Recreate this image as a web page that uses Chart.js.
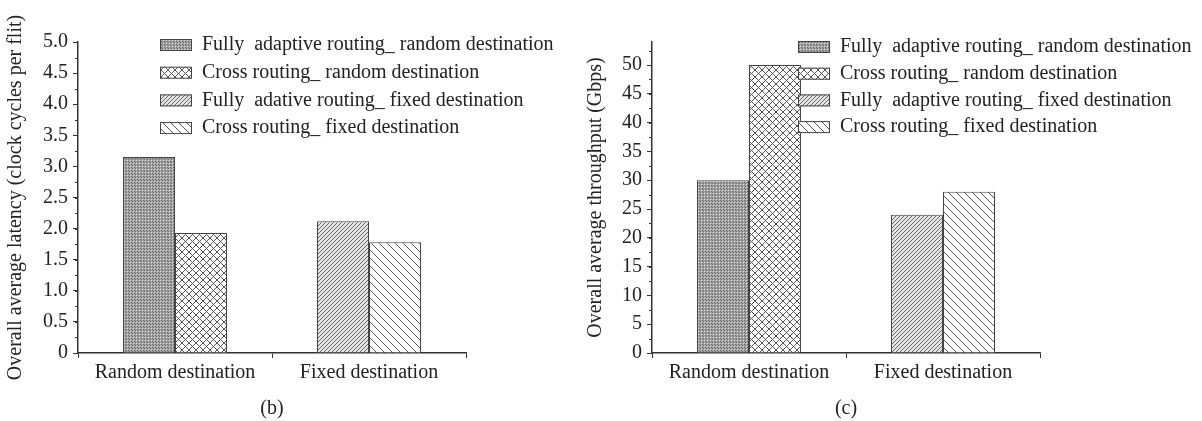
<!DOCTYPE html>
<html>
<head>
<meta charset="utf-8">
<script src="https://cdn.jsdelivr.net/npm/chart.js@4.4.1/dist/chart.umd.min.js"></script>
<style>
    body { margin: 0; background: #fff; width: 1202px; height: 421px; overflow: hidden; position: relative; }
    .wrap { position: absolute; top: 0; height: 421px; }
    #wrapB { left: 0; width: 580px; }
    #wrapC { left: 580px; width: 622px; }
</style>
</head>
<body>
<div class="wrap" id="wrapB"><canvas id="chartB"></canvas></div>
<div class="wrap" id="wrapC"><canvas id="chartC"></canvas></div>
<script>
// categories on the x axis
const categories = ['Random destination', 'Fixed destination'];

// legend texts (as printed in each panel)
const latencySeries = [
    'Fully  adaptive routing_ random destination',
    'Cross routing_ random destination',
    'Fully  adative routing_ fixed destination',
    'Cross routing_ fixed destination'
];
const throughputSeries = [
    'Fully  adaptive routing_ random destination',
    'Cross routing_ random destination',
    'Fully  adaptive routing_ fixed destination',
    'Cross routing_ fixed destination'
];

// (b) latency, clock cycles per flit
const latencyFullyRandom = [3.15, null];
const latencyCrossRandom = [1.93, null];
const latencyFullyFixed = [null, 2.12];
const latencyCrossFixed = [null, 1.78];

// (c) throughput, Gbps
const throughputFullyRandom = [30, null];
const throughputCrossRandom = [50, null];
const throughputFullyFixed = [null, 24];
const throughputCrossFixed = [null, 28];

// y axis ranges
const latencyMax = 5, latencyStep = 0.5, latencyMinor = 0.25;
const throughputMax = 54, throughputStep = 5, throughputMinor = 2.5;

const FONT = '"Liberation Serif", "Times New Roman", serif';
const INK = '#222';
const AXIS = '#333';

// hatch fills
function makePattern(kind) {
    const c = document.createElement('canvas');
    const g = c.getContext('2d');
    if (kind === 'dense') {
        c.width = c.height = 3;
        g.fillStyle = '#a4a4a4';
        g.fillRect(0, 0, 3, 3);
        g.fillStyle = '#dcdcdc';
        g.fillRect(1, 1, 1, 1);
        g.fillStyle = '#6a6a6a';
        g.fillRect(0, 0, 1, 1);
        g.fillRect(2, 2, 1, 1);
    } else if (kind === 'cross') {
        const s = 7;
        c.width = c.height = s;
        g.fillStyle = '#fff';
        g.fillRect(0, 0, s, s);
        g.strokeStyle = '#555';
        g.lineWidth = 1;
        g.beginPath();
        g.moveTo(0, 0); g.lineTo(s, s);
        g.moveTo(s, 0); g.lineTo(0, s);
        g.stroke();
    } else if (kind === 'fine') {
        const s = 4;
        c.width = c.height = s;
        g.fillStyle = '#e4e4e4';
        g.fillRect(0, 0, s, s);
        g.strokeStyle = '#6a6a6a';
        g.lineWidth = 1;
        g.beginPath();
        g.moveTo(-1, s + 1); g.lineTo(s + 1, -1);
        g.moveTo(-1, 1); g.lineTo(1, -1);
        g.moveTo(s - 1, s + 1); g.lineTo(s + 1, s - 1);
        g.stroke();
    } else {
        const s = 8;
        c.width = c.height = s;
        g.fillStyle = '#fff';
        g.fillRect(0, 0, s, s);
        g.strokeStyle = '#555';
        g.lineWidth = 1;
        g.beginPath();
        g.moveTo(-1, -1); g.lineTo(s + 1, s + 1);
        g.moveTo(s - 1, -1); g.lineTo(s + 1, 1);
        g.moveTo(-1, s - 1); g.lineTo(1, s + 1);
        g.stroke();
    }
    return c.getContext('2d').createPattern(c, 'repeat');
}

const fills = [makePattern('dense'), makePattern('cross'), makePattern('fine'), makePattern('back')];

// short outward minor ticks on the y axis
const minorTicks = {
    id: 'minorTicks',
    afterDraw(chart, args, opts) {
        const s = chart.scales.y;
        const ctx = chart.ctx;
        ctx.save();
        ctx.strokeStyle = AXIS;
        ctx.lineWidth = 1;
        for (let v = 0; v <= s.max + 1e-9; v += opts.step) {
            const y = Math.round(s.getPixelForValue(v)) + 0.5;
            ctx.beginPath();
            ctx.moveTo(s.right, y);
            ctx.lineTo(s.right - 3, y);
            ctx.stroke();
        }
        ctx.restore();
    }
};

// legend drawn inside the plot, box + text per row
const boxLegend = {
    id: 'boxLegend',
    afterDraw(chart, args, opts) {
        const ctx = chart.ctx;
        ctx.save();
        ctx.font = '20px ' + FONT;
        ctx.textBaseline = 'middle';
        chart.data.datasets.forEach((ds, i) => {
            const y = opts.top + i * opts.rowGap;
            ctx.fillStyle = ds.backgroundColor;
            ctx.fillRect(opts.left, y - opts.boxH / 2, opts.boxW, opts.boxH);
            ctx.strokeStyle = '#444';
            ctx.lineWidth = 1;
            ctx.strokeRect(opts.left + 0.5, y - opts.boxH / 2 + 0.5, opts.boxW - 1, opts.boxH - 1);
            ctx.fillStyle = INK;
            ctx.fillText(ds.label, opts.left + opts.boxW + opts.gap, y);
        });
        ctx.restore();
    }
};

function makeChart(id, p) {
    const ctx = document.getElementById(id).getContext('2d');
    return new Chart(ctx, {
        type: 'bar',
        data: {
            labels: categories,
            datasets: p.series.map((data, i) => ({
                label: p.labels[i],
                data: data,
                backgroundColor: fills[i],
                borderColor: '#444',
                borderWidth: 1,
                skipNull: true,
                categoryPercentage: 0.536,
                barPercentage: 1
            }))
        },
        plugins: [minorTicks, boxLegend],
        options: {
            responsive: true,
            maintainAspectRatio: false,
            animation: false,
            layout: { padding: { top: 42, right: p.rightPad, bottom: 0, left: 0 } },
            plugins: {
                legend: { display: false },
                tooltip: { enabled: false },
                minorTicks: { step: p.minor },
                boxLegend: p.legend
            },
            scales: {
                x: {
                    offset: true,
                    afterFit: scale => { scale.height = 68; },
                    grid: { offset: true, drawOnChartArea: false, tickLength: 5, color: AXIS },
                    border: { color: AXIS, width: 1.5 },
                    ticks: { color: INK, font: { family: FONT, size: 20 }, padding: 3 },
                    title: { display: true, text: p.caption, color: INK, font: { family: FONT, size: 20 }, padding: { top: 4, bottom: 0 } }
                },
                y: {
                    min: 0,
                    max: p.max,
                    afterFit: scale => { scale.width = p.yWidth; },
                    afterBuildTicks: scale => {
                        scale.ticks = scale.ticks.filter(t => Math.abs(t.value / p.step - Math.round(t.value / p.step)) < 1e-6);
                    },
                    grid: { drawOnChartArea: false, tickLength: 5, color: AXIS },
                    border: { color: AXIS, width: 1.5 },
                    ticks: {
                        stepSize: p.step,
                        color: INK,
                        padding: 5,
                        font: { family: FONT, size: 20 },
                        callback: p.format
                    },
                    title: { display: true, text: p.yTitle, color: INK, font: { family: FONT, size: 20 }, padding: { top: 4, bottom: 0 } }
                }
            }
        }
    });
}

makeChart('chartB', {
    series: [latencyFullyRandom, latencyCrossRandom, latencyFullyFixed, latencyCrossFixed],
    labels: latencySeries,
    max: latencyMax,
    step: latencyStep,
    minor: latencyMinor,
    yWidth: 78,
    rightPad: 114,
    caption: '(b)',
    yTitle: 'Overall average latency (clock cycles per flit)',
    format: v => v === 0 ? '0' : v.toFixed(1),
    legend: { left: 160, top: 45, rowGap: 27.7, boxW: 32, boxH: 12, gap: 10 }
});

makeChart('chartC', {
    series: [throughputFullyRandom, throughputCrossRandom, throughputFullyFixed, throughputCrossFixed],
    labels: throughputSeries,
    max: throughputMax,
    step: throughputStep,
    minor: throughputMinor,
    yWidth: 72,
    rightPad: 162,
    caption: '(c)',
    yTitle: 'Overall average throughput (Gbps)',
    format: v => String(v),
    legend: { left: 218, top: 47, rowGap: 26.7, boxW: 32, boxH: 12, gap: 10 }
});
</script>
</body>
</html>
